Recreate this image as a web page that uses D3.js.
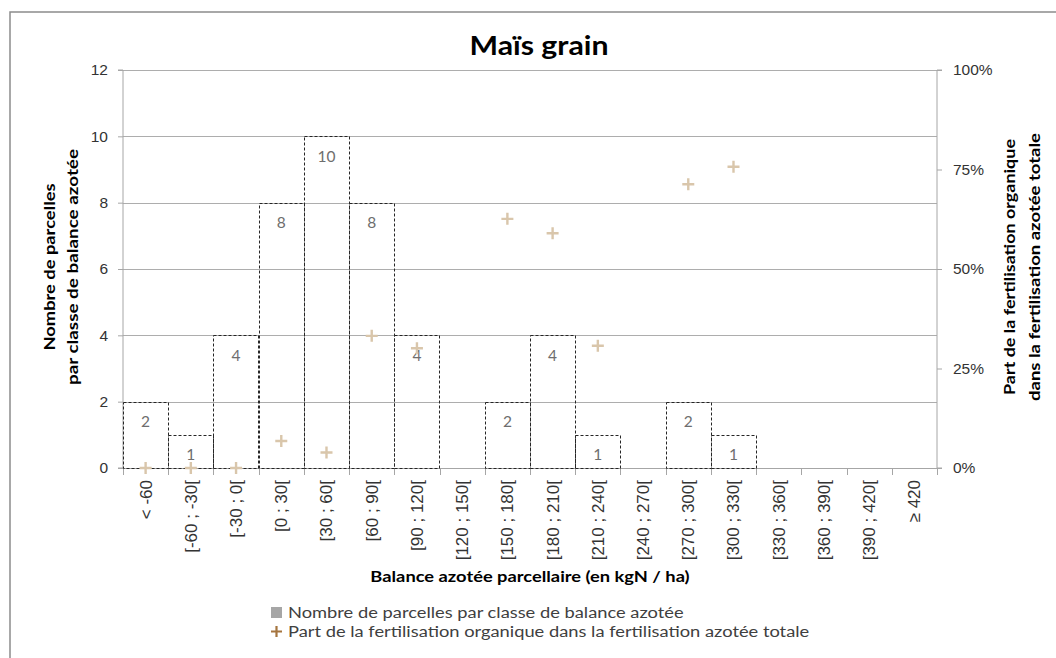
<!DOCTYPE html>
<html>
<head>
<meta charset="utf-8">
<script src="https://cdn.jsdelivr.net/npm/d3@7"></script>
<style>
    body { margin: 0; background: #fff; }
    svg { display: block; font-family: Lato, "Open Sans", sans-serif; }
    .axis text { fill: #333; font-size: 15.5px; }
    .axis path, .axis line { stroke: #a6a6a6; }
</style>
</head>
<body>
<div id="chart"></div>
<script>
var categories = ["< -60", "[-60 ; -30[", "[-30 ; 0[", "[0 ; 30[", "[30 ; 60[", "[60 ; 90[",
    "[90 ; 120[", "[120 ; 150[", "[150 ; 180[", "[180 ; 210[", "[210 ; 240[", "[240 ; 270[",
    "[270 ; 300[", "[300 ; 330[", "[330 ; 360[", "[360 ; 390[", "[390 ; 420[", "≥ 420"];

var counts = [2, 1, 4, 8, 10, 8, 4, 0, 2, 4, 1, 0, 2, 1, 0, 0, 0, 0];

// share of organic fertilisation, null = no point
var organic = [0, 0, 0, 0.068, 0.039, 0.332, 0.301, null, 0.626, 0.59, 0.307, null,
    0.713, 0.757, null, null, null, null];

var leftTicks = [0, 2, 4, 6, 8, 10, 12],
    rightTicks = [0, 0.25, 0.5, 0.75, 1];

var W = 1056, H = 658;
var margin = {left: 123, right: W - 937, top: 70, bottom: H - 468};
var width = W - margin.left - margin.right,
    height = H - margin.top - margin.bottom;

// the original text is a bit wider than Lato, stretch it
function stretch(sel, k) {
    sel.each(function () {
        var len = this.getComputedTextLength();
        d3.select(this)
            .attr("textLength", len * k)
            .attr("lengthAdjust", "spacingAndGlyphs");
    });
}

var svg = d3.select("#chart").append("svg")
    .attr("width", W)
    .attr("height", H);

// outer frame
svg.append("rect")
    .attr("x", 10).attr("y", 12)
    .attr("width", W + 20).attr("height", H + 20)
    .attr("fill", "none")
    .attr("stroke", "#8c8c8c")
    .attr("stroke-width", 1.5);

var x = d3.scaleBand().domain(categories).range([0, width]).padding(0);
var y = d3.scaleLinear().domain([0, 12]).range([height, 0]);
var y2 = d3.scaleLinear().domain([0, 1]).range([height, 0]);

var chart = svg.append("g")
    .attr("transform", "translate(" + margin.left + "," + margin.top + ")");

// gridlines
chart.append("g")
    .selectAll("line")
    .data(leftTicks)
    .enter().append("line")
    .attr("x1", 0).attr("x2", width)
    .attr("y1", function (d) { return Math.round(y(d)) + 0.5; })
    .attr("y2", function (d) { return Math.round(y(d)) + 0.5; })
    .attr("stroke", "#adadad");

// left axis
var yAxis = chart.append("g")
    .attr("class", "y axis")
    .call(d3.axisLeft(y).tickValues(leftTicks).tickSize(5).tickPadding(10));
yAxis.select(".domain").attr("d", "M-5," + height + "H0V0H-5");

// right axis
var y2Axis = chart.append("g")
    .attr("class", "y2 axis")
    .attr("transform", "translate(" + width + ",0)")
    .call(d3.axisRight(y2).tickValues(rightTicks).tickSize(5).tickPadding(11)
        .tickFormat(d3.format(".0%")));
y2Axis.select(".domain").attr("d", "M5," + height + "H0V0H5");

// x axis
var xAxis = chart.append("g")
    .attr("class", "x axis")
    .attr("transform", "translate(0," + height + ")")
    .call(d3.axisBottom(x).tickSize(0).tickPadding(0));
xAxis.select(".domain").remove();
xAxis.selectAll(".tick text")
    .attr("transform", "rotate(-90)")
    .attr("x", -12)
    .attr("y", 0)
    .attr("dy", "0.35em")
    .style("font-size", "17px")
    .style("text-anchor", "end");
xAxis.append("line")
    .attr("x1", 0).attr("x2", width)
    .attr("y1", 0.5).attr("y2", 0.5)
    .attr("stroke", "#a6a6a6");
xAxis.selectAll(".sep")
    .data(d3.range(categories.length + 1))
    .enter().append("line")
    .attr("class", "sep")
    .attr("x1", function (i) { return Math.round(i * x.bandwidth()) + 0.5; })
    .attr("x2", function (i) { return Math.round(i * x.bandwidth()) + 0.5; })
    .attr("y1", 0).attr("y2", 7)
    .attr("stroke", "#a6a6a6");

// bars: no fill, dashed outline
var bars = chart.append("g").selectAll(".bar")
    .data(categories.map(function (c, i) { return {cat: c, v: counts[i]}; })
        .filter(function (d) { return d.v > 0; }))
    .enter().append("g")
    .attr("class", "bar");

bars.append("rect")
    .attr("x", function (d) { return Math.round(x(d.cat)) + 0.5; })
    .attr("y", function (d) { return Math.round(y(d.v)) + 0.5; })
    .attr("width", function () { return Math.round(x.bandwidth()); })
    .attr("height", function (d) { return Math.round(height - y(d.v)); })
    .attr("fill", "none")
    .attr("stroke", "#262626")
    .attr("stroke-width", 1)
    .attr("stroke-dasharray", "3,2");

bars.append("text")
    .attr("x", function (d) { return x(d.cat) + x.bandwidth() / 2; })
    .attr("y", function (d) { return y(d.v) + 20; })
    .attr("dy", "0.35em")
    .attr("text-anchor", "middle")
    .attr("fill", "#6e6e6e")
    .style("font-size", "15.5px")
    .text(function (d) { return d.v; });

// crosses for organic share
chart.append("g").selectAll(".pt")
    .data(categories.map(function (c, i) { return {cat: c, v: organic[i]}; })
        .filter(function (d) { return d.v !== null; }))
    .enter().append("path")
    .attr("class", "pt")
    .attr("transform", function (d) {
        return "translate(" + (x(d.cat) + x.bandwidth() / 2) + "," + y2(d.v) + ")";
    })
    .attr("d", "M-6,0H6M0,-6V6")
    .attr("stroke", "#d9c6ab")
    .attr("stroke-width", 2.4);

// title
svg.append("text")
    .attr("x", 539)
    .attr("y", 55)
    .attr("text-anchor", "middle")
    .style("font-size", "27px")
    .style("font-weight", "bold")
    .attr("fill", "#000")
    .text("Maïs grain")
    .call(stretch, 1.12);

// axis titles
function vTitle(cx, lines, sizes) {
    lines.forEach(function (t, i) {
        svg.append("text")
            .attr("transform", "translate(" + cx[i] + ",267) rotate(-90)")
            .attr("text-anchor", "middle")
            .style("font-size", "16px")
            .style("font-weight", "bold")
            .attr("fill", "#000")
            .attr("textLength", sizes[i])
            .attr("lengthAdjust", "spacingAndGlyphs")
            .text(t);
    });
}
vTitle([55, 78], ["Nombre de parcelles", "par classe de balance azotée"], [167, 236]);
vTitle([1015, 1040], ["Part de la fertilisation organique", "dans la fertilisation azotée totale"], [256, 268]);

svg.append("text")
    .attr("x", 530)
    .attr("y", 582)
    .attr("text-anchor", "middle")
    .style("font-size", "15.5px")
    .style("font-weight", "bold")
    .attr("fill", "#000")
    .text("Balance azotée parcellaire (en kgN / ha)")
    .call(stretch, 1.18);

// legend
var legend = svg.append("g").attr("transform", "translate(271,0)");
legend.append("rect")
    .attr("x", 0).attr("y", 607)
    .attr("width", 11).attr("height", 11)
    .attr("fill", "#a6a6a6");
legend.append("text")
    .attr("x", 17).attr("y", 613)
    .attr("dy", "0.35em")
    .style("font-size", "15.5px")
    .attr("fill", "#404040")
    .text("Nombre de parcelles par classe de balance azotée")
    .call(stretch, 1.18);
legend.append("path")
    .attr("d", "M0,631.5H11M5.5,626V637")
    .attr("stroke", "#a5753f")
    .attr("stroke-width", 2.2);
legend.append("text")
    .attr("x", 17).attr("y", 632)
    .attr("dy", "0.35em")
    .style("font-size", "15.5px")
    .attr("fill", "#404040")
    .text("Part de la fertilisation organique dans la fertilisation azotée totale")
    .call(stretch, 1.18);
</script>
</body>
</html>
